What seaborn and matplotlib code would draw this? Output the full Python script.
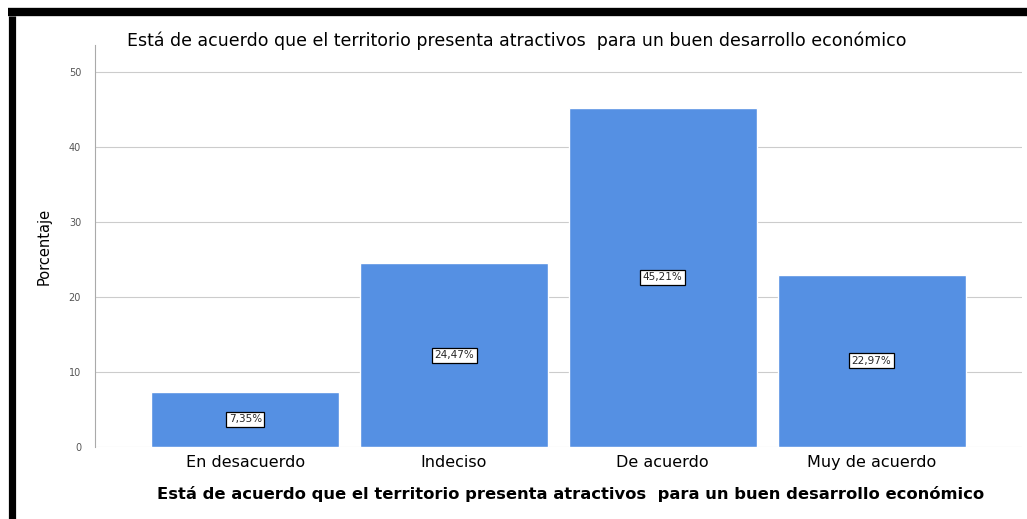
import matplotlib
matplotlib.use("Agg")
import matplotlib.pyplot as plt
import seaborn as sns
import pandas as pd
from matplotlib.lines import Line2D

# data
categorias = ["En desacuerdo", "Indeciso", "De acuerdo", "Muy de acuerdo"]
porcentajes = [7.35, 24.47, 45.21, 22.97]
etiquetas = ["7,35%", "24,47%", "45,21%", "22,97%"]
yticks = [0, 10, 20, 30, 40, 50]
titulo = "Está de acuerdo que el territorio presenta atractivos  para un buen desarrollo económico"

df = pd.DataFrame({"cat": categorias, "pct": porcentajes})

sns.set_style("white")
plt.rcParams["font.family"] = ["DejaVu Sans"]

fig = plt.figure(figsize=(10.27, 5.19), dpi=100)
ax = fig.add_axes([0.0925, 0.139, 0.9025, 0.774])

sns.barplot(data=df, x="cat", y="pct", color="#5590E3", saturation=1, width=0.9, ax=ax)

# value labels in the middle of each bar
for i, (v, t) in enumerate(zip(porcentajes, etiquetas)):
    ax.text(i, v / 2, t, ha="center", va="center", fontsize=7.5,
            bbox=dict(boxstyle="square,pad=0.25", fc="white", ec="black", lw=0.9))

ax.set_xlim(-0.72, 3.72)
ax.set_ylim(0, 53.6)
ax.set_yticks(yticks)
ax.set_yticklabels([str(t) for t in yticks], fontsize=7, color="#555555")
ax.yaxis.grid(True, color="#cccccc", lw=0.8)
ax.set_axisbelow(True)
ax.tick_params(axis="x", length=0, labelsize=11.5, pad=6, labelcolor="black")
ax.tick_params(axis="y", length=0, pad=10)
for s in ["top", "right", "bottom"]:
    ax.spines[s].set_visible(False)
ax.spines["left"].set_color("#aaaaaa")

ax.set_xlabel(titulo, fontsize=11.8, fontweight="bold", color="black")
ax.xaxis.set_label_coords(0.5135, -0.097)
ax.set_ylabel("Porcentaje", fontsize=10.5, labelpad=12, color="black")
fig.text(0.503, 0.922, titulo, ha="center", va="center", fontsize=12.5, color="black")

# black frame (left and top)
fig.add_artist(Line2D([0.0112, 0.0112], [0, 0.97], transform=fig.transFigure,
                      color="black", lw=5.2, solid_capstyle="butt"))
fig.add_artist(Line2D([0.008, 1.0], [0.9765, 0.9765], transform=fig.transFigure,
                      color="black", lw=6, solid_capstyle="butt"))

fig.savefig("out.png", dpi=100)
